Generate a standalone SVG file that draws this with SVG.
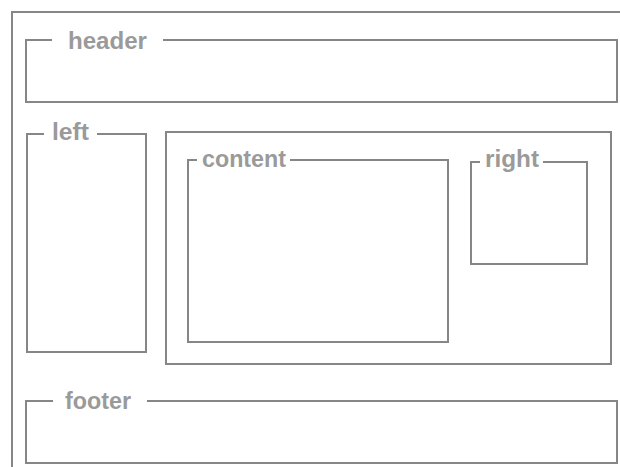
<svg xmlns="http://www.w3.org/2000/svg" width="620" height="467" viewBox="0 0 620 467">
<style>
.b{fill:none;stroke:#868686;stroke-width:2}
.t{font-family:"Liberation Sans",Arial,sans-serif;font-weight:bold;font-size:23px;fill:#9a9a9a}
</style>
<rect width="620" height="467" fill="#fff"/>
<g id="frame"><path class="b" d="M12 470V12H622"/></g>
<g id="header">
<path class="b" d="M52 40H26V102H617V40H163"/>
<text class="t" x="68" y="49" textLength="79" lengthAdjust="spacingAndGlyphs">header</text>
</g>
<g id="left">
<path class="b" d="M44 134H27V352H146V134H97"/>
<text class="t" x="52" y="140" textLength="37" lengthAdjust="spacingAndGlyphs">left</text>
</g>
<g id="main">
<rect class="b" x="166" y="132" width="445" height="232"/>
</g>
<g id="content">
<path class="b" d="M197 160H188V342H448V160H290"/>
<text class="t" x="202" y="167" textLength="84" lengthAdjust="spacingAndGlyphs">content</text>
</g>
<g id="right">
<path class="b" d="M480 162H471V264H587V162H543"/>
<text class="t" x="485" y="167" textLength="54" lengthAdjust="spacingAndGlyphs">right</text>
</g>
<g id="footer">
<path class="b" d="M53 401H26V463H617V401H147"/>
<text class="t" x="65" y="409" textLength="66" lengthAdjust="spacingAndGlyphs">footer</text>
</g>
<g id="connectors"/>
</svg>
